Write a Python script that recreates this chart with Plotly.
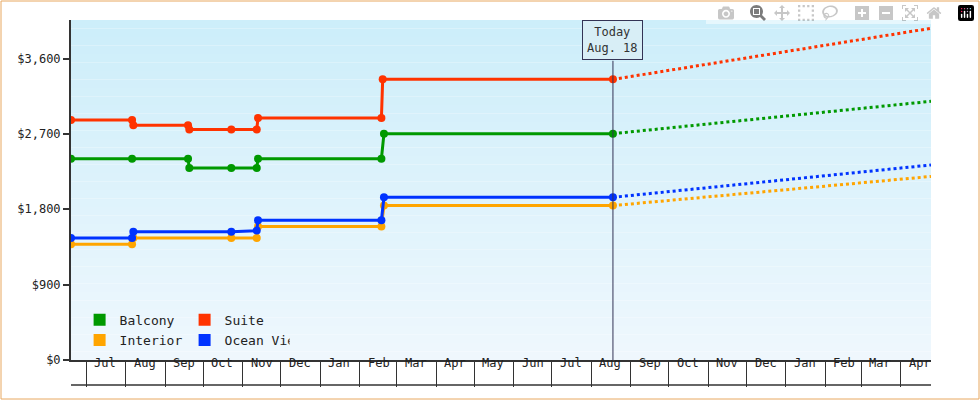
import pandas as pd
import plotly.graph_objects as go

# price history (step points) and projection
hist_dates = {
    'Balcony': ['2023-06-19', '2023-08-06', '2023-09-19', '2023-09-20', '2023-10-23', '2023-11-12', '2023-11-13', '2024-02-18', '2024-02-20', '2024-08-18'],
    'Suite': ['2023-06-19', '2023-08-06', '2023-08-07', '2023-09-19', '2023-09-20', '2023-10-23', '2023-11-12', '2023-11-13', '2024-02-18', '2024-02-19', '2024-08-18'],
    'Interior': ['2023-06-19', '2023-08-06', '2023-08-07', '2023-10-23', '2023-11-12', '2023-11-13', '2024-02-18', '2024-02-20', '2024-08-18'],
    'Ocean View': ['2023-06-19', '2023-08-06', '2023-08-07', '2023-10-23', '2023-11-12', '2023-11-13', '2024-02-18', '2024-02-20', '2024-08-18'],
}
hist_prices = {
    'Balcony': [2404, 2404, 2404, 2292, 2292, 2292, 2404, 2404, 2703, 2703],
    'Suite': [2865, 2865, 2803, 2803, 2753, 2753, 2753, 2890, 2890, 3351, 3351],
    'Interior': [1383, 1383, 1457, 1457, 1457, 1594, 1594, 1844, 1844],
    'Ocean View': [1457, 1457, 1532, 1532, 1545, 1669, 1669, 1943, 1943],
}
proj_end = '2025-04-25'
proj_prices = {'Balcony': 3089, 'Suite': 3961, 'Interior': 2192, 'Ocean View': 2329}
colors = {'Balcony': '#009900', 'Suite': '#ff3300', 'Interior': '#ffa500', 'Ocean View': '#0033ff'}
today = '2024-08-18'
x_start, x_end = '2023-06-19', '2025-04-25'
y_ticks = [0, 900, 1800, 2700, 3600]
month_starts = pd.date_range('2023-07-01', '2025-05-01', freq='MS')

FONT = 'DejaVu Sans Mono'
W, H = 980, 400
ml, mr, mt, mb = 71, 49, 20, 40
pw, ph = W - ml - mr, H - mt - mb

fig = go.Figure()
for name in ['Interior', 'Ocean View', 'Balcony', 'Suite']:
    c = colors[name]
    fig.add_trace(go.Scatter(x=hist_dates[name], y=hist_prices[name], mode='lines+markers',
                             line=dict(color=c, width=3), marker=dict(color=c, size=8),
                             showlegend=False, hoverinfo='skip'))
    fig.add_trace(go.Scatter(x=[today, proj_end], y=[hist_prices[name][-1], proj_prices[name]],
                             mode='lines', line=dict(color=c, width=3, dash='dot'),
                             showlegend=False, hoverinfo='skip'))

# legend entries in two rows
for name, lg in [('Balcony', 'legend'), ('Suite', 'legend'), ('Interior', 'legend2'), ('Ocean View', 'legend2')]:
    fig.add_trace(go.Scatter(x=[None], y=[None], mode='markers', name=name, legend=lg,
                             marker=dict(symbol='square', size=12, color=colors[name])))

# background gradient
shapes = []
n = 40
for i in range(n):
    t = i / n
    r = int(0xcd + (0xf0 - 0xcd) * t)
    g = int(0xee + (0xf8 - 0xee) * t)
    b = int(0xfa + (0xfe - 0xfa) * t)
    shapes.append(dict(type='rect', xref='paper', yref='paper', x0=0, x1=1,
                       y0=1 - (i + 1) / n, y1=1 - i / n, fillcolor=f'rgb({r},{g},{b})',
                       line=dict(width=0), layer='below'))
# outer border
shapes.append(dict(type='rect', xref='paper', yref='paper',
                   x0=-(ml - 1) / pw, x1=(W - ml - 1) / pw,
                   y0=-(mb - 1) / ph, y1=(H - mb - 1) / ph,
                   line=dict(color='#e8a860', width=1)))
# today line
shapes.append(dict(type='line', xref='x', yref='paper', x0=today, x1=today, y0=0, y1=0.88,
                   line=dict(color='#333355', width=1)))
# bottom line of month boxes
shapes.append(dict(type='line', xref='paper', yref='paper', x0=0, x1=1,
                   y0=-25 / ph, y1=-25 / ph, line=dict(color='#333', width=1.5)))

annotations = []
for m in month_starts[:-1]:
    mid = m + pd.Timedelta(days=15)
    if mid > pd.Timestamp(x_end):
        mid = m + pd.Timedelta(days=12)
    annotations.append(dict(x=mid, y=-12 / ph, xref='x', yref='paper', text=m.strftime('%b'),
                            showarrow=False, font=dict(family=FONT, size=12, color='#222')))
annotations.append(dict(x=today, y=1.0, xref='x', yref='paper', yanchor='top',
                        text='Today<br>Aug. 18', showarrow=False, bgcolor='#d8eef6',
                        bordercolor='#333355', borderwidth=1, borderpad=4,
                        font=dict(family=FONT, size=12, color='#333')))

fig.update_layout(
    width=W, height=H, margin=dict(l=ml, r=mr, t=mt, b=mb),
    paper_bgcolor='white', plot_bgcolor='rgba(0,0,0,0)',
    font=dict(family=FONT, size=12, color='#222'),
    shapes=shapes, annotations=annotations,
    legend=dict(orientation='h', x=0.01, y=0.118, yanchor='middle', bgcolor='rgba(0,0,0,0)',
                entrywidth=60, font=dict(family=FONT, size=13), itemwidth=30,
                tracegroupgap=0),
    legend2=dict(orientation='h', x=0.01, y=0.059, yanchor='middle', bgcolor='rgba(0,0,0,0)',
                 entrywidth=60, font=dict(family=FONT, size=13), itemwidth=30,
                 tracegroupgap=0),
    xaxis=dict(range=[x_start, x_end], tickvals=month_starts, ticktext=[''] * len(month_starts),
               ticks='outside', ticklen=25, tickcolor='#333', tickwidth=1,
               showgrid=False, showline=True, linecolor='#333', linewidth=1.5, zeroline=False),
    yaxis=dict(range=[0, 4060], tickvals=y_ticks, ticktext=[f'${v:,}' for v in y_ticks],
               ticks='outside', ticklen=6, tickwidth=2, tickcolor='#333',
               showgrid=False, showline=True, linecolor='#333', linewidth=2, zeroline=False),
)
fig.write_html('out.html', post_script="document.body.style.margin='0';")
